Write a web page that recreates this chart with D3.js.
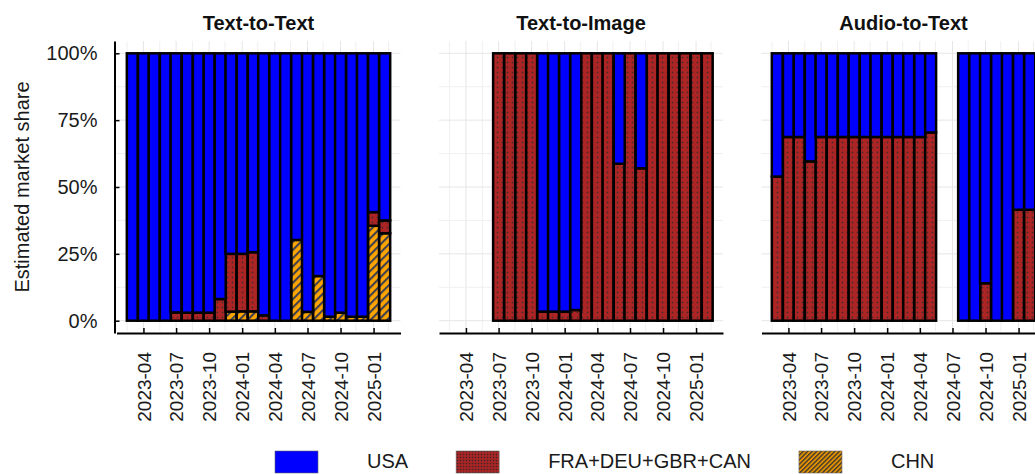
<!DOCTYPE html>
<html>
<head>
<meta charset="utf-8">
<script src="https://cdn.jsdelivr.net/npm/d3@7"></script>
<style>
body { margin: 0; background: #ffffff; }
text { font-family: "Liberation Sans", Arial, sans-serif; }
</style>
</head>
<body>
<div id="chart"></div>
<script>
// monthly bars, 2023-03 .. 2025-02
var months = ["2023-03", "2023-04", "2023-05", "2023-06", "2023-07", "2023-08", "2023-09", "2023-10",
    "2023-11", "2023-12", "2024-01", "2024-02", "2024-03", "2024-04", "2024-05", "2024-06",
    "2024-07", "2024-08", "2024-09", "2024-10", "2024-11", "2024-12", "2025-01", "2025-02"];

var panelTitles = ["Text-to-Text", "Text-to-Image", "Audio-to-Text"];
var seriesNames = ["USA", "FRA+DEU+GBR+CAN", "CHN"];

// shares in %, null = no data that month
var textTextUSA = [100, 100, 100, 100, 96.9, 97, 97, 97, 91.9, 75, 75, 74.4, 98, 100, 100, 69.8, 96.7, 83.3, 98.5, 97, 98.5, 98.5, 59.4, 62.5];
var textTextEUR = [0, 0, 0, 0, 3.1, 3, 3, 3, 8.1, 21.6, 21.5, 22.1, 2, 0, 0, 0, 0, 0, 0, 0, 0, 0, 5.1, 4.8];
var textTextCHN = [0, 0, 0, 0, 0, 0, 0, 0, 0, 3.4, 3.5, 3.5, 0, 0, 0, 30.2, 3.3, 16.7, 1.5, 3, 1.5, 1.5, 35.5, 32.7];

var textImageUSA = [null, null, null, null, 0, 0, 0, 0, 96.6, 96.6, 96.6, 96, 0, 0, 0, 41.3, 0, 43, 0, 0, 0, 0, 0, 0];
var textImageEUR = [null, null, null, null, 100, 100, 100, 100, 3.4, 3.4, 3.4, 4, 100, 100, 100, 58.7, 100, 57, 100, 100, 100, 100, 100, 100];
var textImageCHN = [null, null, null, null, 0, 0, 0, 0, 0, 0, 0, 0, 0, 0, 0, 0, 0, 0, 0, 0, 0, 0, 0, 0];

var audioTextUSA = [46.1, 31.3, 31.3, 40.4, 31.3, 31.3, 31.3, 31.3, 31.3, 31.3, 31.3, 31.3, 31.3, 31.3, 29.6, null, null, 100, 100, 86, 100, 100, 58.5, 58.5];
var audioTextEUR = [53.9, 68.7, 68.7, 59.6, 68.7, 68.7, 68.7, 68.7, 68.7, 68.7, 68.7, 68.7, 68.7, 68.7, 70.4, null, null, 0, 0, 14, 0, 0, 41.5, 41.5];
var audioTextCHN = [0, 0, 0, 0, 0, 0, 0, 0, 0, 0, 0, 0, 0, 0, 0, null, null, 0, 0, 0, 0, 0, 0, 0];

var xTickLabels = ["2023-04", "2023-07", "2023-10", "2024-01", "2024-04", "2024-07", "2024-10", "2025-01"];
var yTicks = [0, 0.25, 0.5, 0.75, 1];

var width = 1035, height = 474;
var panelLeft = 116.5, panelStep = 322.5, panelWidth = 284;
var parseMonth = d3.timeParse("%Y-%m");

var panelData = [
    [textTextUSA, textTextEUR, textTextCHN],
    [textImageUSA, textImageEUR, textImageCHN],
    [audioTextUSA, audioTextEUR, audioTextCHN]
];

var svg = d3.select('#chart').append('svg')
    .attr('width', width)
    .attr('height', height);

var defs = svg.append('defs');

function addDots(id, size, r, bg, dot) {
    var p = defs.append('pattern').attr('id', id)
        .attr('patternUnits', 'userSpaceOnUse')
        .attr('width', size).attr('height', size);
    p.append('rect').attr('width', size).attr('height', size).attr('fill', bg);
    p.append('circle').attr('cx', size / 2).attr('cy', size / 2).attr('r', r).attr('fill', dot);
}
function addStripes(id, size, lw, bg, fg) {
    var p = defs.append('pattern').attr('id', id)
        .attr('patternUnits', 'userSpaceOnUse')
        .attr('width', size).attr('height', size)
        .attr('patternTransform', 'rotate(45)');
    p.append('rect').attr('width', size).attr('height', size).attr('fill', bg);
    p.append('rect').attr('width', lw).attr('height', size).attr('fill', fg);
}
addDots('eurDots', 5, 0.9, '#ad2424', '#4a2b2b');
addDots('eurDotsSmall', 3, 0.8, '#a82525', '#3e2424');
addStripes('chnStripes', 5.8, 2.1, '#ffa500', '#3f4150');
addStripes('chnStripesSmall', 3.2, 1.3, '#e09000', '#3a3530');

var fills = {USA: '#0000ff', EUR: 'url(#eurDots)', CHN: 'url(#chnStripes)'};

var y = d3.scaleLinear().domain([-0.046, 1.046]).range([333, 41]);

panelTitles.forEach(function (title, p) {
    var x0 = panelLeft + p * panelStep;
    var x = d3.scaleTime()
        .domain([new Date(2023, 0, 16), new Date(2025, 2, 17)])
        .range([x0, x0 + panelWidth]);
    var tickDates = xTickLabels.map(parseMonth);
    var barWidth = (x(tickDates[tickDates.length - 1]) - x(tickDates[0])) / 21;

    var g = svg.append('g');

    // grid: major at ticks, minor halfway
    var step = x(tickDates[1]) - x(tickDates[0]);
    var gridX = [];
    tickDates.forEach(function (d) { gridX.push({v: x(d), major: true}); });
    for (var i = -1; i < tickDates.length; i++) {
        var mx = x(tickDates[0]) + (i + 0.5) * step;
        if (mx > x0 && mx < x0 + panelWidth) gridX.push({v: mx, major: false});
    }
    g.selectAll('line.vgrid').data(gridX).enter().append('line')
        .attr('class', 'vgrid')
        .attr('x1', function (d) { return d.v; })
        .attr('x2', function (d) { return d.v; })
        .attr('y1', y(1.046))
        .attr('y2', y(-0.046) - 2)
        .style('stroke', function (d) { return d.major ? '#e6e6e6' : '#f0f0f0'; })
        .style('stroke-width', '1px');
    var gridY = d3.range(0, 1.0001, 0.125);
    g.selectAll('line.hgrid').data(gridY).enter().append('line')
        .attr('class', 'hgrid')
        .attr('x1', x0)
        .attr('x2', x0 + panelWidth)
        .attr('y1', function (d) { return y(d); })
        .attr('y2', function (d) { return y(d); })
        .style('stroke', function (d, i) { return i % 2 == 0 ? '#e6e6e6' : '#f0f0f0'; })
        .style('stroke-width', '1px');

    // stacked bars: CHN bottom, then EUR, then USA
    var usa = panelData[p][0], eur = panelData[p][1], chn = panelData[p][2];
    var rows = [];
    months.forEach(function (m, i) {
        if (usa[i] == null) return;
        rows.push({date: parseMonth(m), CHN: chn[i] / 100, EUR: eur[i] / 100, USA: usa[i] / 100});
    });
    var stack = d3.stack().keys(['CHN', 'EUR', 'USA'])(rows);
    stack.forEach(function (layer) {
        var segs = layer.filter(function (d) { return d[1] - d[0] > 0; });
        g.selectAll('rect.' + layer.key).data(segs).enter().append('rect')
            .attr('class', layer.key)
            .attr('x', function (d) { return x(d.data.date) - barWidth / 2; })
            .attr('y', function (d) { return y(d[1]); })
            .attr('width', barWidth)
            .attr('height', function (d) { return y(d[0]) - y(d[1]); })
            .style('fill', fills[layer.key])
            .style('stroke', '#000000')
            .style('stroke-width', '2.5px');
    });

    // x axis
    var xAxis = g.append('g')
        .attr('transform', 'translate(0,' + y(-0.046) + ')')
        .call(d3.axisBottom(x).tickValues(tickDates)
            .tickFormat(d3.timeFormat('%Y-%m'))
            .tickSizeInner(-5).tickSizeOuter(0));
    xAxis.select('.domain').style('stroke', '#000').style('stroke-width', '2px');
    xAxis.selectAll('.tick line').style('stroke', '#000').style('stroke-width', '1.5px');
    xAxis.selectAll('.tick text')
        .attr('transform', 'rotate(-90)')
        .attr('x', -19)
        .attr('y', 0)
        .attr('dy', '0.35em')
        .style('text-anchor', 'end')
        .style('font-size', '19px')
        .style('font-family', '"Liberation Sans", Arial, sans-serif')
        .style('fill', '#1a1a1a');

    // y axis only on the first panel
    if (p == 0) {
        var yAxis = g.append('g')
            .attr('transform', 'translate(' + (x0 - 2) + ',0)')
            .call(d3.axisLeft(y).tickValues(yTicks)
                .tickFormat(d3.format('.0%'))
                .tickSizeInner(-5).tickSizeOuter(0).tickPadding(17));
        yAxis.select('.domain').style('stroke', '#000').style('stroke-width', '2px');
        yAxis.selectAll('.tick line').style('stroke', '#000').style('stroke-width', '1.5px');
        yAxis.selectAll('.tick text')
            .style('font-size', '20px')
            .style('font-family', '"Liberation Sans", Arial, sans-serif')
            .style('fill', '#1a1a1a');
    }

    g.append('text')
        .attr('x', x0 + panelWidth / 2)
        .attr('y', 30)
        .attr('text-anchor', 'middle')
        .style('font-size', '20px')
        .style('font-weight', 'bold')
        .style('fill', '#111')
        .text(title);
});

svg.append('text')
    .attr('transform', 'translate(29,' + y(0.5) + ') rotate(-90)')
    .attr('text-anchor', 'middle')
    .style('font-size', '20px')
    .style('fill', '#1a1a1a')
    .text('Estimated market share');

// legend
var legendFills = ['#0000ff', 'url(#eurDotsSmall)', 'url(#chnStripesSmall)'];
var lx = 275;
seriesNames.forEach(function (name, i) {
    svg.append('rect')
        .attr('x', lx).attr('y', 451)
        .attr('width', 43).attr('height', 22)
        .style('fill', legendFills[i])
        .style('stroke', '#666').style('stroke-width', '0.6px');
    var t = svg.append('text')
        .attr('x', lx + 92).attr('y', 468)
        .style('font-size', '20px')
        .style('fill', '#1a1a1a')
        .text(name);
    lx = lx + 92 + t.node().getComputedTextLength() + 48;
});
</script>
</body>
</html>
